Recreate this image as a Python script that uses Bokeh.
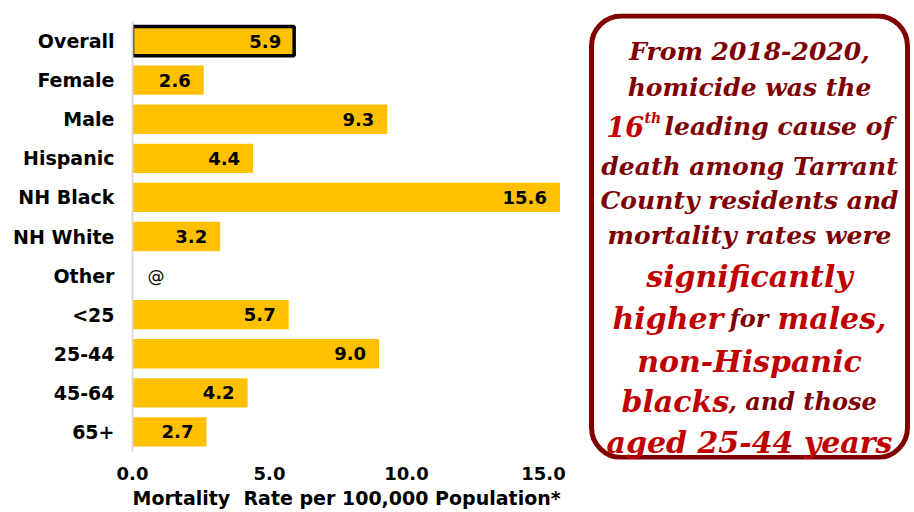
from bokeh.plotting import figure
from bokeh.models import (ColumnDataSource, Range1d, FixedTicker,
                          NumeralTickFormatter, Title, BoxAnnotation)
from bokeh.embed import file_html
from bokeh.resources import INLINE
from bokeh.core.properties import value

# ---------------- data ----------------
categories = ["Overall", "Female", "Male", "Hispanic", "NH Black", "NH White",
              "Other", "<25", "25-44", "45-64", "65+"]
rates = [5.9, 2.6, 9.3, 4.4, 15.6, 3.2, None, 5.7, 9.0, 4.2, 2.7]
suppressed_mark = "@"
x_ticks = [0, 5, 10, 15]
axis_title = "Mortality  Rate per 100,000 Population"
axis_note = "*"

BAR = "#FFC000"
DARK = "#7F0000"
RED = "#C00000"
SANS = "DejaVu Sans"
SERIF = "DejaVu Serif"

pos = list(range(len(categories)))          # row index, top to bottom
src = ColumnDataSource(dict(
    y=[i for i, r in zip(pos, rates) if r is not None],
    rate=[r for r in rates if r is not None],
    lab=[f"{r:.1f}" for r in rates if r is not None]))
first = ColumnDataSource(dict(y=[pos[0]], rate=[rates[0]]))
missing = ColumnDataSource(dict(
    y=[i for i, r in zip(pos, rates) if r is None],
    x=[0 for r in rates if r is None],
    lab=[suppressed_mark for r in rates if r is None]))

W, H = 914, 512
FL, FR, FT, FB = 132, 2, 13, 53     # frame borders
px_per_unit = 27.4
pad = 0.205

p = figure(width=W, height=H,
           y_range=Range1d(len(categories) - 0.5 + pad, -0.5 - pad),
           x_range=Range1d(0, (W - FL - FR) / px_per_unit),
           output_backend="svg", toolbar_location=None,
           min_border_left=FL, min_border_right=FR,
           min_border_top=FT, min_border_bottom=FB)
p.outline_line_color = None
p.grid.visible = False
p.background_fill_color = "white"

# pixel-like helper ranges for the call-out box
p.extra_x_ranges = {"px": Range1d(FL, W - FR)}
p.extra_y_ranges = {"py": Range1d(H - FB, FT)}

p.hbar(y="y", right="rate", left=0, height=0.75, source=src,
       fill_color=BAR, line_color=None)
p.hbar(y="y", right="rate", left=0, height=0.75, source=first,
       fill_color=BAR, line_color="black", line_width=3.5)

p.text(x="rate", y="y", text="lab", source=src, x_offset=-13,
       text_align="right", text_baseline="middle",
       text_font=value(SANS), text_font_style="bold", text_font_size="18px",
       text_color="black")
p.text(x="x", y="y", text="lab", source=missing, x_offset=15,
       text_align="left", text_baseline="middle",
       text_font=value(SANS), text_font_size="17px", text_color="black")

ya = p.yaxis[0]
ya.ticker = FixedTicker(ticks=pos)
ya.major_label_overrides = {i: c for i, c in zip(pos, categories)}
ya.bounds = (-0.5, len(categories) - 0.5)
ya.axis_line_color = "#D9D9D9"
ya.axis_line_width = 2
ya.major_tick_line_color = None
ya.minor_tick_line_color = None
ya.major_label_standoff = 12
ya.major_label_text_font = SANS
ya.major_label_text_font_style = "bold"
ya.major_label_text_font_size = "19px"
ya.major_label_text_color = "black"

xa = p.xaxis[0]
xa.ticker = FixedTicker(ticks=x_ticks)
xa.formatter = NumeralTickFormatter(format="0.0")
xa.axis_line_color = None
xa.major_tick_line_color = None
xa.minor_tick_line_color = None
xa.major_label_standoff = 1
xa.major_label_text_font = SANS
xa.major_label_text_font_style = "bold"
xa.major_label_text_font_size = "18px"
xa.major_label_text_color = "black"

p.add_layout(Title(text=axis_title.replace("  ", "\u00a0 ") + axis_note,
                   align="left", standoff=5,
                   text_font=SANS, text_font_style="bold",
                   text_font_size="19px", text_color="black"), "below")

# ---------------- call-out box ----------------
p.add_layout(BoxAnnotation(left=591, right=907, top=15.5, bottom=457,
                           x_range_name="px", y_range_name="py",
                           fill_color="white", fill_alpha=1,
                           line_color="#800000", line_alpha=1, line_width=5,
                           border_radius=30, level="underlay"))

CX = 749
DS = "25px"   # size of ordinary call-out text
RS = "30px"   # size of highlighted call-out text


def t(x, y, s, color, size, align="center"):
    p.text(x=[x], y=[y], text=[s], text_align=align, text_baseline="alphabetic",
           x_range_name="px", y_range_name="py",
           text_font=value(SERIF), text_font_style="bold italic",
           text_font_size=size, text_color=color)


t(CX, 51, "From 2018-2020,", DARK, DS)
t(CX, 87, "homicide was the", DARK, DS)
t(606, 126, "16", RED, "27px", "left")
t(644, 117, "th", RED, "14px", "left")
t(664, 126, "leading cause of", DARK, DS, "left")
t(CX, 166, "death among Tarrant", DARK, DS)
t(CX, 200, "County residents and", DARK, DS)
t(CX, 235, "mortality rates were", DARK, DS)
t(CX, 276, "significantly", RED, RS)
t(612, 318, "higher", RED, RS, "left")
t(729, 318, "for", DARK, "24px", "left")
t(777, 318, "males,", RED, RS, "left")
t(CX, 361, "non-Hispanic", RED, RS)
t(621, 401, "blacks", RED, RS, "left")
t(728, 401, ", and those", DARK, "24px", "left")
t(CX, 442, "aged 25-44 years", RED, RS)

open("out.html", "w").write(file_html(p, INLINE))
